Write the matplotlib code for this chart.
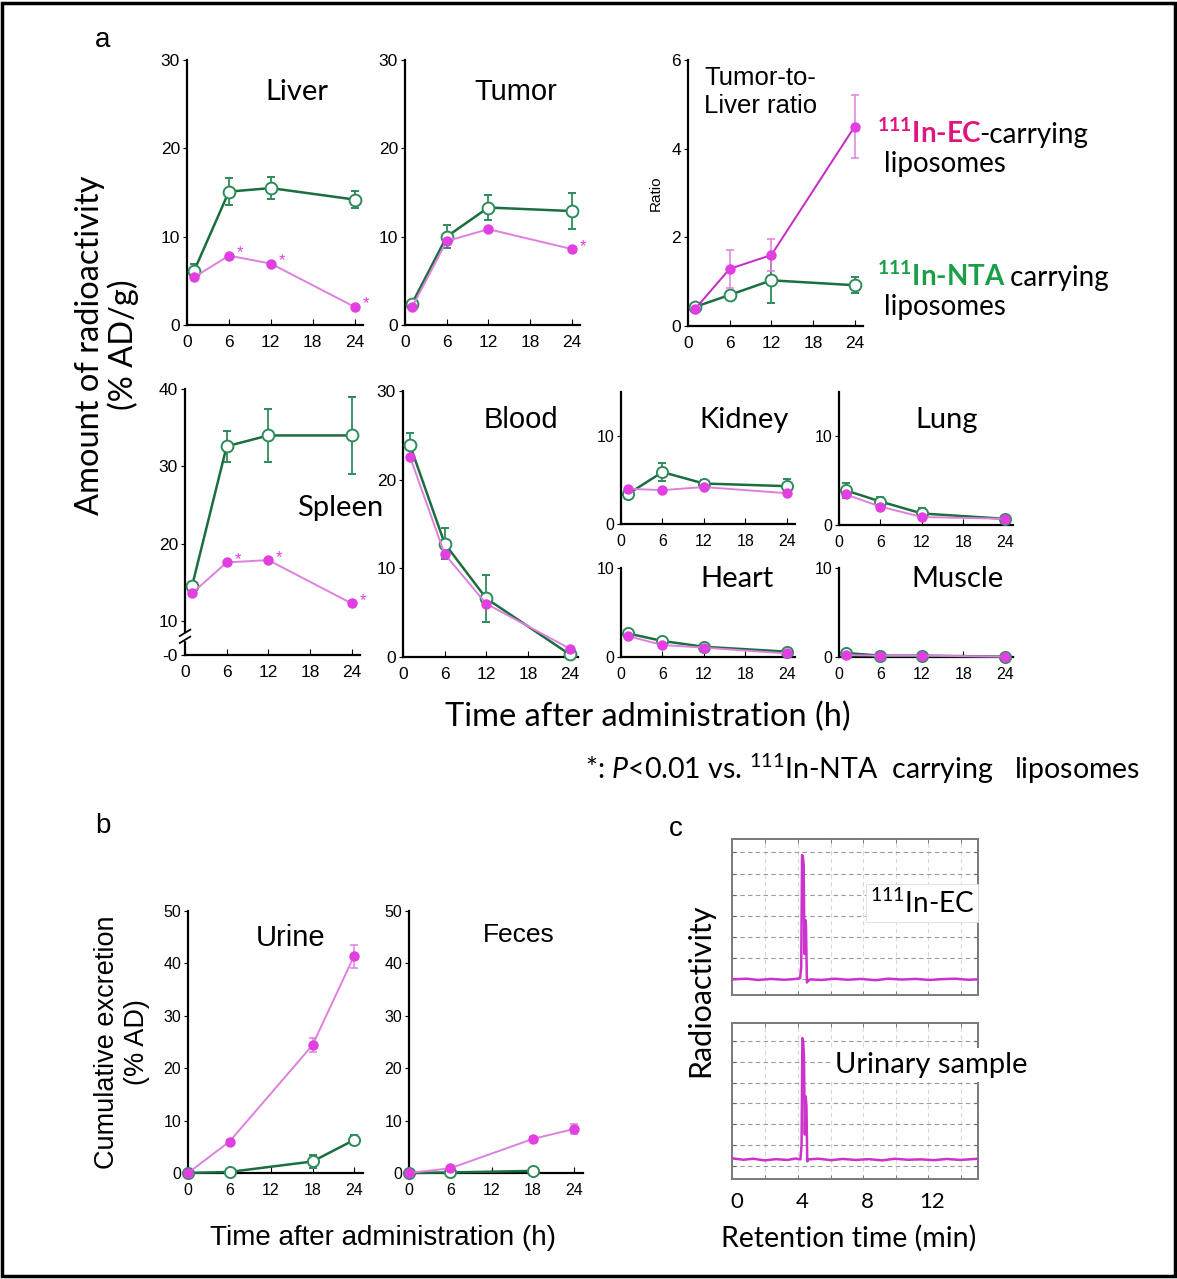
import matplotlib
matplotlib.use('Agg')
import matplotlib.pyplot as plt
from matplotlib.patches import Rectangle

W, H = 1177, 1279

plt.rcParams['font.family'] = ['Liberation Sans', 'DejaVu Sans']
plt.rcParams['mathtext.fontset'] = 'custom'
plt.rcParams['mathtext.rm'] = 'Lato'
plt.rcParams['mathtext.it'] = 'Lato:italic'
plt.rcParams['mathtext.bf'] = 'Lato:bold'

# ---- data ----
t_org = [1, 6, 12, 24]
t_exc = [0, 6, 18, 24]
t_feces_nta = [0, 6, 18]
hours = [0, 6, 12, 18, 24]

liver_ec = [5.4, 7.85, 6.95, 2.05]
liver_nta = [6.1, 15.1, 15.5, 14.2]
liver_nta_sd = [0.8, 1.5, 1.25, 1.0]
liver_star = [1, 2, 3]

tumor_ec = [2.0, 9.5, 10.85, 8.6]
tumor_nta = [2.4, 10.0, 13.3, 12.9]
tumor_nta_sd = [0.3, 1.3, 1.4, 2.0]
tumor_star = [3]

ratio_ec = [0.38, 1.29, 1.6, 4.5]
ratio_ec_sd = [0.05, 0.43, 0.37, 0.7]
ratio_nta = [0.43, 0.7, 1.03, 0.92]
ratio_nta_sd = [0.05, 0.05, 0.5, 0.18]

spleen_ec = [13.6, 17.6, 17.9, 12.3]
spleen_nta = [14.5, 32.6, 34.0, 34.0]
spleen_nta_sd = [0.5, 2.0, 3.4, 5.0]
spleen_star = [1, 2, 3]

blood_ec = [22.6, 11.6, 6.0, 0.95]
blood_nta = [23.9, 12.8, 6.6, 0.3]
blood_nta_sd = [1.4, 1.7, 2.6, 0.2]

kidney_ec = [4.0, 3.85, 4.2, 3.5]
kidney_nta = [3.4, 5.9, 4.6, 4.3]
kidney_nta_sd = [0.6, 1.0, 0.4, 0.8]

lung_ec = [3.45, 2.07, 0.9, 0.7]
lung_nta = [3.9, 2.65, 1.3, 0.7]
lung_nta_sd = [0.8, 0.5, 0.65, 0.1]

heart_ec = [2.35, 1.35, 1.05, 0.4]
heart_nta = [2.65, 1.8, 1.15, 0.6]

muscle_ec = [0.2, 0.15, 0.15, 0.05]
muscle_nta = [0.45, 0.15, 0.15, 0.05]

urine_ec = [0, 6.0, 24.4, 41.4]
urine_ec_sd = [0, 0.3, 1.3, 2.2]
urine_nta = [0, 0.2, 2.2, 6.3]
urine_nta_sd = [0, 0.1, 1.3, 1.0]

feces_ec = [0, 0.9, 6.5, 8.4]
feces_ec_sd = [0, 0.2, 0.4, 1.0]
feces_nta = [0, 0.1, 0.4]

# radio-HPLC traces (retention time in min, signal in grid units)
rt_std = [-0.3, 0.6, 1.3, 2.1, 2.9, 3.5, 3.88, 3.95, 4.0, 4.05, 4.1, 4.15, 4.2, 4.24, 4.3, 4.36, 4.5,
          5.2, 6.0, 6.8, 7.6, 8.5, 9.3, 10.1, 11.0, 11.8, 12.6, 13.4, 14.2, 14.8]
sig_std = [1.0, 1.03, 0.97, 1.02, 0.98, 1.01, 1.05, 1.6, 6.87, 6.8, 6.4, 2.2, 3.8, 3.6, 0.85, 0.92, 1.0,
           0.97, 1.03, 0.98, 1.02, 0.96, 1.03, 0.99, 1.02, 0.97, 1.01, 1.03, 0.98, 1.0]
rt_urine = [-0.3, 0.4, 1.0, 1.7, 2.4, 3.1, 3.6, 3.9, 3.97, 4.02, 4.07, 4.12, 4.17, 4.22, 4.27, 4.32, 4.4,
            5.0, 5.8, 6.5, 7.3, 8.1, 8.9, 9.7, 10.5, 11.3, 12.1, 12.9, 13.7, 14.8]
sig_urine = [1.35, 1.28, 1.33, 1.25, 1.31, 1.27, 1.34, 1.3, 2.0, 7.16, 7.0, 6.2, 2.5, 4.35, 3.9, 1.2, 1.3,
             1.33, 1.26, 1.32, 1.27, 1.31, 1.25, 1.33, 1.28, 1.3, 1.26, 1.32, 1.27, 1.33]

GREEN = '#1b6e3e'
GREEN_ERR = '#2e8b5a'
PINK = '#e23fe2'
PINK_LINE = '#de80de'
PINK_DARK = '#c42ac4'
EC_TXT = '#e0157f'
NTA_TXT = '#1a9e48'

fig = plt.figure(figsize=(W / 100, H / 100), dpi=100)


def rect(x0, y0, x1, y1):
    return [x0 / W, 1 - y1 / H, (x1 - x0) / W, (y1 - y0) / H]


def base_axes(box, ylim, yticks, xlim=(0, 25.2), xticks=hours, fs=12.5):
    ax = fig.add_axes(rect(*box))
    ax.set_xlim(*xlim)
    ax.set_ylim(*ylim)
    ax.set_xticks(xticks)
    ax.set_yticks(yticks)
    for s in ['top', 'right']:
        ax.spines[s].set_visible(False)
    for s in ['left', 'bottom']:
        ax.spines[s].set_linewidth(1.6)
    ax.tick_params(axis='x', direction='in', length=4, width=0.8, labelsize=fs, pad=7)
    ax.tick_params(axis='y', direction='out', length=3, width=0.8, labelsize=fs, pad=2)
    return ax


def nta_line(ax, t, y, sd=None, ms=8.5):
    ax.errorbar(t, y, yerr=sd, color=GREEN, ecolor=GREEN_ERR, lw=1.8, elinewidth=1.3,
                capsize=3, capthick=1.3, marker='o', ms=ms, mfc='white', mec=GREEN_ERR,
                mew=1.4, clip_on=False, zorder=3)


def ec_line(ax, t, y, sd=None, ms=6.5, line=PINK_LINE):
    ax.errorbar(t, y, yerr=sd, color=line, ecolor=PINK_LINE, lw=1.4, elinewidth=1.1,
                capsize=3, capthick=1.1, marker='o', ms=ms, mfc=PINK, mec=PINK,
                clip_on=False, zorder=4)


def stars(ax, t, y, idx):
    for i in idx:
        ax.annotate('*', (t[i], y[i]), xytext=(8, 2), textcoords='offset points',
                    color=PINK, fontsize=12, ha='center', va='center', annotation_clip=False)


# ---- panel a, top row ----
ax = base_axes((187, 60, 363, 325), (0, 30), [0, 10, 20, 30])
nta_line(ax, t_org, liver_nta, liver_nta_sd)
ec_line(ax, t_org, liver_ec)
stars(ax, t_org, liver_ec, liver_star)

ax = base_axes((405, 60, 580, 325), (0, 30), [0, 10, 20, 30])
nta_line(ax, t_org, tumor_nta, tumor_nta_sd)
ec_line(ax, t_org, tumor_ec)
stars(ax, t_org, tumor_ec, tumor_star)

ax = base_axes((688, 60, 863, 326), (0, 6), [0, 2, 4, 6])
nta_line(ax, t_org, ratio_nta, ratio_nta_sd)
ec_line(ax, t_org, ratio_ec, ratio_ec_sd, line=PINK_DARK)
ax.set_ylabel('Ratio', fontsize=11, labelpad=6)

# ---- panel a, bottom row ----
sp_low = 5.64
ax = base_axes((185, 389, 360, 655), (sp_low, 40), [sp_low, 10, 20, 30, 40])
ax.set_yticklabels(['-0', '10', '20', '30', '40'])
nta_line(ax, t_org, spleen_nta, spleen_nta_sd)
ec_line(ax, t_org, spleen_ec)
stars(ax, t_org, spleen_ec, spleen_star)
b0 = (7.6 - sp_low) / (40 - sp_low)
b1 = (8.5 - sp_low) / (40 - sp_low)
ax.add_patch(Rectangle((-0.03, b0), 0.06, b1 - b0, transform=ax.transAxes,
                       color='white', clip_on=False, zorder=5))
for yb in (b0, b1):
    ax.plot([-0.03, 0.03], [yb - 0.012, yb + 0.012], transform=ax.transAxes,
            color='black', lw=1.3, clip_on=False, zorder=6)

ax = base_axes((403, 391, 578, 657), (0, 30), [0, 10, 20, 30])
nta_line(ax, t_org, blood_nta, blood_nta_sd)
ec_line(ax, t_org, blood_ec)

small = [((621, 392, 795, 524), (0, 15), kidney_nta, kidney_nta_sd, kidney_ec),
         ((839, 392, 1013, 525), (0, 15), lung_nta, lung_nta_sd, lung_ec),
         ((621, 568, 795, 657), (0, 10), heart_nta, None, heart_ec),
         ((839, 568, 1013, 657), (0, 10), muscle_nta, None, muscle_ec)]
for box, yl, g, gsd, p in small:
    ax = base_axes(box, yl, [0, 10], fs=11.5)
    nta_line(ax, t_org, g, gsd, ms=8)
    ec_line(ax, t_org, p, ms=6.5)

# ---- panel b ----
ax = base_axes((188, 911, 363, 1173), (0, 50), [0, 10, 20, 30, 40, 50], xlim=(0, 25.3), fs=11.5)
nta_line(ax, t_exc, urine_nta, urine_nta_sd, ms=8)
ec_line(ax, t_exc, urine_ec, urine_ec_sd, ms=6.5)

ax = base_axes((409, 911, 583, 1173), (0, 50), [0, 10, 20, 30, 40, 50], xlim=(0, 25.3), fs=11.5)
nta_line(ax, t_feces_nta, feces_nta, ms=8)
ec_line(ax, t_exc, feces_ec, feces_ec_sd, ms=6.5)

# ---- panel c ----
for box, ylim, rt, sig, lab in [((732, 839, 978, 995), (0.26, 7.63), rt_std, sig_std, r'$^{111}$In-EC'),
                                ((732, 1023, 978, 1179), (0.35, 7.89), rt_urine, sig_urine, 'Urinary sample')]:
    ax = fig.add_axes(rect(*box))
    ax.set_xlim(-0.3, 14.8)
    ax.set_ylim(*ylim)
    for s in ax.spines.values():
        s.set_color('#7a7a7a')
        s.set_linewidth(1.4)
    ax.set_yticks(range(1, 8))
    ax.set_yticklabels([])
    ax.set_xticks([1.75, 3.75, 5.75, 7.75, 9.75, 11.75, 13.75], minor=True)
    ax.set_xticks([0, 4, 8, 12])
    ax.grid(True, axis='y', color='#9a9a9a', ls=(0, (4, 3)), lw=0.8)
    ax.grid(True, axis='x', which='minor', color='#d8d8d8', ls=(0, (4, 3)), lw=0.8)
    ax.tick_params(axis='both', which='both', direction='in', color='#666666',
                   length=3, left=True, right=True, top=True, bottom=True)
    ax.tick_params(axis='x', which='major', length=0, labelsize=16, pad=9)
    ax.plot(rt, sig, color='#cc33cc', lw=1.8, zorder=3)
    if box[1] < 1000:
        ax.set_xticklabels([])
        ax.text(0.56, 0.59, lab, transform=ax.transAxes, fontsize=20, family='Lato',
                va='center', ha='left', zorder=5,
                bbox=dict(fc='white', ec='#dddddd', lw=0.6, pad=3))
    else:
        ax.set_xticklabels(['0', '4', '8', '12'], family='Lato')
        ax.text(0.42, 0.73, lab, transform=ax.transAxes, fontsize=21, family='Lato',
                va='center', ha='left', zorder=5, clip_on=False,
                bbox=dict(fc='white', ec='none', pad=3))

# ---- text layer (pixel coordinates) ----
tx = fig.add_axes([0, 0, 1, 1], zorder=10)
tx.set_xlim(0, W)
tx.set_ylim(H, 0)
tx.axis('off')

tx.text(103, 40, 'a', fontsize=20, ha='center', va='center')
tx.text(103, 826, 'b', fontsize=20, ha='center', va='center')
tx.text(676, 829, 'c', fontsize=20, ha='center', va='center')

tx.text(297, 92, 'Liver', fontsize=21, family='Lato', ha='center', va='center')
tx.text(516, 92, 'Tumor', fontsize=21, ha='center', va='center')
tx.text(704, 92, 'Tumor-to-\nLiver ratio', fontsize=18.5, ha='left', va='center', linespacing=1.2)
tx.text(340, 508, 'Spleen', fontsize=21, family='Lato', ha='center', va='center')
tx.text(521, 420, 'Blood', fontsize=21, ha='center', va='center')
tx.text(744, 420, 'Kidney', fontsize=21, family='Lato', ha='center', va='center')
tx.text(947, 420, 'Lung', fontsize=21, family='Lato', ha='center', va='center')
tx.text(737, 579, 'Heart', fontsize=21, family='Lato', ha='center', va='center')
tx.text(958, 579, 'Muscle', fontsize=21, family='Lato', ha='center', va='center')
tx.text(291, 938, 'Urine', fontsize=21, ha='center', va='center')
tx.text(519, 935, 'Feces', fontsize=19, ha='center', va='center')

tx.text(107, 345, 'Amount of radioactivity\n(% AD/g)', fontsize=23.5, family='Lato', rotation=90,
        ha='center', va='center', linespacing=1.1)
tx.text(648, 717, 'Time after administration (h)', fontsize=23.5, family='Lato', ha='center', va='center')
tx.text(585, 779, r'*: $\mathit{P}$<0.01 vs. $^{\mathrm{111}}$In-NTA  carrying   liposomes', fontsize=20.5,
        family='Lato', ha='left', va='baseline')

tx.text(122, 1042, 'Cumulative excretion\n(% AD)', fontsize=19.5, rotation=90, ha='center',
        va='center', linespacing=1.15)
tx.text(383, 1238, 'Time after administration (h)', fontsize=20, ha='center', va='center')
tx.text(700, 990, 'Radioactivity', fontsize=22, family='Lato', rotation=90, ha='center', va='center')
tx.text(849, 1238, 'Retention time (min)', fontsize=20.5, family='Lato', ha='center', va='center')

# legend text for the two liposome types
e1 = tx.text(877, 143, r'$^{\mathbf{111}}$In-EC', fontsize=20, family='Lato', fontweight='bold',
             color=EC_TXT, ha='left', va='baseline')
tx.annotate('-carrying', xy=(1, 143), xycoords=(e1, 'data'), xytext=(-2, 0),
            textcoords='offset points', fontsize=20, family='Lato', ha='left', va='baseline')
tx.text(884, 172, 'liposomes', fontsize=20, family='Lato', ha='left', va='baseline')
n1 = tx.text(877, 286, r'$^{\mathbf{111}}$In-NTA', fontsize=20, family='Lato', fontweight='bold',
             color=NTA_TXT, ha='left', va='baseline')
tx.annotate(' carrying', xy=(1, 286), xycoords=(n1, 'data'), xytext=(-2, 0),
            textcoords='offset points', fontsize=20, family='Lato', ha='left', va='baseline')
tx.text(884, 315, 'liposomes', fontsize=20, family='Lato', ha='left', va='baseline')

fig.add_artist(Rectangle((0.002, 0.002), 0.996, 0.996, transform=fig.transFigure,
                         fill=False, ec='black', lw=2.5))

fig.savefig('out.png', dpi=100)
